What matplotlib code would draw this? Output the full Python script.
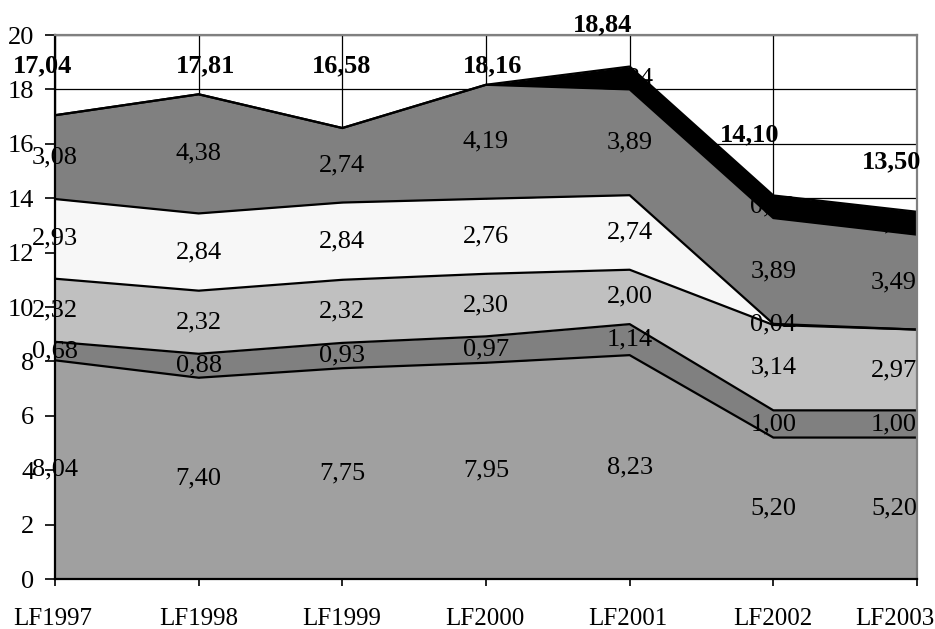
import matplotlib.pyplot as plt
import numpy as np

plt.rcParams['font.family'] = ['Liberation Serif', 'DejaVu Serif']

# categories and stacked series
years = ["LF1997", "LF1998", "LF1999", "LF2000", "LF2001", "LF2002", "LF2003"]
s1 = [8.04, 7.40, 7.75, 7.95, 8.23, 5.20, 5.20]
s2 = [0.68, 0.88, 0.93, 0.97, 1.14, 1.00, 1.00]
s3 = [2.32, 2.32, 2.32, 2.30, 2.00, 3.14, 2.97]
s4 = [2.93, 2.84, 2.84, 2.76, 2.74, 0.04, 0.00]
s5 = [3.08, 4.38, 2.74, 4.19, 3.89, 3.89, 3.49]
s6 = [0.00, 0.00, 0.00, 0.00, 0.84, 0.83, 0.84]
totals = [17.04, 17.81, 16.58, 18.16, 18.84, 14.10, 13.50]

# where the bold total labels sit (data y) and their x shift in pixels
tot_label_y = [18.87, 18.87, 18.87, 18.87, 20.37, 16.32, 15.33]
tot_label_dx = [-12, 7, -1, 7, -27, -24, -25]
# category labels are nudged by excel so they stay inside the chart
cat_label_dx = [-2, 0, -1, -1, -2, 0, -22]

colors = ["#a0a0a0", "#808080", "#c0c0c0", "#f7f7f7", "#808080", "#000000"]

def fmt(v):
    return f"{v:.2f}".replace(".", ",")

fig = plt.figure(figsize=(9.35, 6.29), dpi=100)
ax = fig.add_axes([55/935, 1-579/629, (917-55)/935, (579-35)/629])

x = np.arange(len(years))
series = [s1, s2, s3, s4, s5, s6]
base = np.zeros(len(years))
fs = 19

for i, s in enumerate(series):
    s = np.array(s)
    top = base + s
    black = (i == 5)
    zf = 5 if black else 2
    ax.fill_between(x, base, top, color=colors[i], lw=0, zorder=zf)
    ax.plot(x, top, color="black", lw=1.6, zorder=zf + 0.5)
    for j, v in enumerate(s):
        if v == 0:
            continue
        ha = "right" if j == len(years) - 1 else "center"
        ax.text(x[j], base[j] + v / 2, fmt(v), ha=ha, va="center",
                fontsize=fs, zorder=4, color="black")
    base = top

for j, t in enumerate(totals):
    ax.annotate(fmt(t), (x[j], tot_label_y[j]), xytext=(tot_label_dx[j], 0),
                textcoords="offset pixels", ha="center", va="center",
                fontsize=fs, fontweight="bold", zorder=8, annotation_clip=False)

ax.set_xlim(0, 6)
ax.set_ylim(0, 20)
ax.set_yticks(np.arange(0, 21, 2))
ax.set_xticks(x)
ax.set_xticklabels([])
for j, name in enumerate(years):
    ax.annotate(name, (x[j], 0), xycoords=("data", "axes fraction"),
                xytext=(cat_label_dx[j], -40), textcoords="offset pixels",
                ha="center", va="center", fontsize=18, annotation_clip=False)

ax.grid(True, color="black", lw=0.9, zorder=0)
ax.set_axisbelow(True)
ax.tick_params(axis="y", direction="out", length=7, width=1.2, labelsize=fs, pad=8)
ax.tick_params(axis="x", direction="out", length=5, width=1.2)
for side in ["left", "bottom"]:
    ax.spines[side].set_color("black")
    ax.spines[side].set_linewidth(1.6)
    ax.spines[side].set_zorder(7)
for side in ["top", "right"]:
    ax.spines[side].set_color("#808080")
    ax.spines[side].set_linewidth(1.6)
    ax.spines[side].set_zorder(7)

fig.savefig("out.png", dpi=100)
